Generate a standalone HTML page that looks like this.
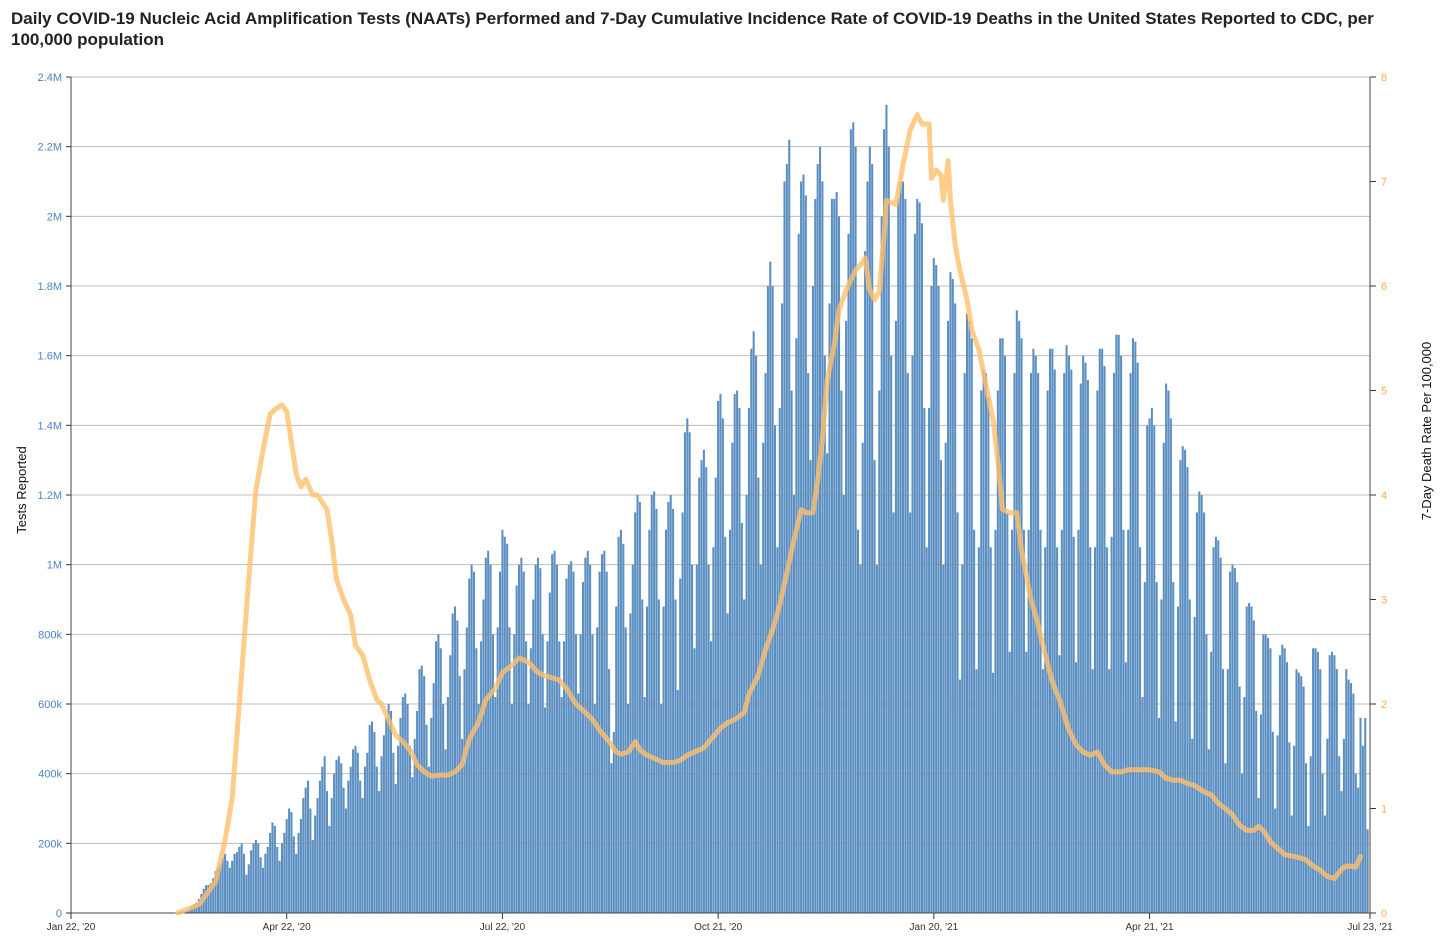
<!DOCTYPE html>
<html><head><meta charset="utf-8"><style>
body{margin:0;background:#fff;width:1454px;height:946px;overflow:hidden;font-family:"Liberation Sans",sans-serif}
#title{position:absolute;left:11px;top:8px;width:1420px;font-size:17px;font-weight:bold;color:#222;line-height:21px}
</style></head><body>
<div id="title">Daily COVID-19 Nucleic Acid Amplification Tests (NAATs) Performed and 7-Day Cumulative Incidence Rate of COVID-19 Deaths in the United States Reported to CDC, per 100,000 population</div>
<svg id="chart" width="1454" height="946" style="position:absolute;left:0;top:0"></svg>
<script>
// daily tests (thousands), starting day 42 (Mar 4 2020), weeks Wed..Tue
const testsStartDay = 42;
const testsK = [
0,0,0,2,3,4,5, 8,12,18,25,30,40,55, 70,80,80,85,100,120,130, 140,160,170,150,130,150,170,
175,190,200,170,110,140,180, 200,210,200,160,130,170,190, 230,260,250,190,150,200,230, 270,300,290,220,170,230,270,
330,360,380,300,210,280,330, 380,420,450,350,250,330,400, 440,450,430,360,300,380,420, 470,480,460,380,330,420,460,
540,550,520,420,350,450,510, 560,600,580,460,370,480,560, 620,630,600,480,390,500,580, 700,710,680,540,420,560,660,
780,800,760,600,470,620,740, 860,880,840,680,500,700,820, 960,1000,980,760,600,780,900, 1020,1040,1000,800,620,820,980,
1100,1080,1060,820,600,800,940, 1000,1020,980,780,600,760,900, 1000,1020,990,800,590,780,920, 1030,1040,1000,780,620,780,960,
1000,1010,980,800,630,800,950, 1020,1040,1000,800,600,820,980, 1030,1040,980,700,430,520,880, 1080,1100,1060,820,600,860,1000,
1150,1200,1180,900,620,880,1100, 1200,1210,1160,900,600,880,1100, 1180,1200,1160,900,640,960,1150, 1380,1420,1380,1000,760,1000,1250,
1300,1330,1280,1000,780,1050,1250, 1470,1490,1420,1080,860,1100,1350, 1490,1500,1450,1120,900,1200,1450, 1620,1670,1600,1250,1000,1350,1550,
1800,1870,1800,1400,1050,1450,1750, 2100,2150,2220,1500,1200,1650,1950, 2100,2120,2060,1550,1300,1800,2050, 2150,2200,2100,1600,1320,1750,2050,
2050,2070,2000,1500,1200,1700,1950, 2250,2270,2200,1100,1000,1350,1900, 2100,2200,2150,1300,1000,1500,2000, 2250,2320,2200,1600,1150,1700,2050,
2100,2100,2050,1550,1150,1600,1950, 2050,2040,1980,1450,1050,1450,1800, 1880,1860,1800,1300,1000,1350,1700, 1840,1820,1750,1150,670,1000,1550,
1720,1700,1650,1100,700,1050,1500, 1560,1550,1480,1050,690,1100,1500, 1650,1650,1600,1150,750,1100,1550, 1730,1700,1650,1100,750,1100,1550,
1620,1600,1550,1100,700,1050,1500, 1620,1620,1560,1050,740,1100,1550, 1630,1600,1560,1080,720,1100,1520, 1600,1580,1530,1050,700,1050,1500,
1620,1620,1570,1050,700,1080,1550, 1660,1660,1600,1100,720,1100,1550, 1650,1640,1580,1050,620,950,1400, 1420,1450,1400,950,560,900,1350,
1520,1500,1420,950,550,880,1300, 1340,1330,1280,900,500,850,1150, 1210,1200,1150,800,470,750,1050, 1080,1070,1020,700,430,700,980,
1000,990,950,650,400,620,880, 890,880,840,580,330,570,800, 800,790,760,520,300,510,740, 770,760,720,490,280,480,700,
690,680,650,430,250,450,760, 760,750,700,400,280,500,740, 750,740,700,450,350,500,700, 670,660,630,400,360,560,480, 560,240
];
const deathDay = [45,54,61,65,68,71,75,78,81,84,86,89,91,93,95,97,99,102,104,108,110,112,115,118,120,123,126,129,131,134,137,140,143,146,149,152,156,159,162,165,168,172,175,179,182,186,189,193,197,200,203,206,209,213,216,220,223,227,230,232,235,238,240,243,246,250,254,257,260,263,267,270,274,277,280,284,286,290,293,296,299,302,305,308,310,313,315,317,319,322,324,327,331,334,335,337,339,341,343,344,348,351,354,357,359,362,363,365,367,368,370,371,373,375,378,380,383,386,389,391,393,396,399,401,405,408,411,414,417,421,424,427,430,433,436,439,443,446,449,452,455,459,462,465,468,471,474,478,481,484,487,490,493,496,499,501,503,506,509,512,516,518,521,524,527,530,533,535,537,539,542,544];
const deathRate = [0,0.08,0.3,0.7,1.1,2.0,3.2,4.05,4.43,4.77,4.82,4.86,4.8,4.5,4.2,4.08,4.15,4.0,4.0,3.86,3.57,3.19,3.0,2.85,2.56,2.47,2.23,2.04,2.0,1.85,1.7,1.64,1.56,1.42,1.35,1.31,1.32,1.32,1.35,1.42,1.66,1.83,2.04,2.15,2.3,2.37,2.44,2.4,2.3,2.27,2.25,2.23,2.15,2.0,1.94,1.85,1.75,1.64,1.54,1.52,1.54,1.64,1.56,1.51,1.48,1.44,1.44,1.46,1.51,1.54,1.58,1.66,1.77,1.82,1.85,1.92,2.09,2.28,2.52,2.71,2.95,3.26,3.57,3.86,3.83,3.83,4.14,4.53,5.1,5.44,5.77,5.96,6.15,6.23,6.27,5.96,5.87,5.95,6.49,6.82,6.78,7.16,7.49,7.64,7.55,7.55,7.03,7.11,7.06,6.82,7.2,6.82,6.39,6.15,5.87,5.58,5.39,5.05,4.72,4.33,3.86,3.83,3.83,3.47,3.0,2.76,2.47,2.21,2.04,1.75,1.61,1.54,1.51,1.54,1.42,1.35,1.35,1.37,1.37,1.37,1.37,1.35,1.29,1.27,1.27,1.24,1.22,1.16,1.13,1.05,1.0,0.94,0.84,0.79,0.79,0.83,0.79,0.68,0.62,0.56,0.54,0.53,0.51,0.45,0.41,0.35,0.33,0.39,0.44,0.45,0.44,0.54];
const leftTicks = [0,200,400,600,800,1000,1200,1400,1600,1800,2000,2200,2400];
const leftTickLabels = ["0","200k","400k","600k","800k","1M","1.2M","1.4M","1.6M","1.8M","2M","2.2M","2.4M"];
const rightTicks = [0,1,2,3,4,5,6,7,8];
const xTickDays = [0,91,182,273,364,455,548];
const xTickLabels = ["Jan 22, '20","Apr 22, '20","Jul 22, '20","Oct 21, '20","Jan 20, '21","Apr 21, '21","Jul 23, '21"];

const NS="http://www.w3.org/2000/svg", svg=document.getElementById('chart');
const X0=71,X1=1370,Y0=913,Y1=77,ND=548;
const x=d=>X0+(X1-X0)*d/ND, yL=v=>Y0-(Y0-Y1)*v/2400, yR=v=>Y0-(Y0-Y1)*v/8;
function mk(t,a,p){const e=document.createElementNS(NS,t);for(const k in a)e.setAttribute(k,a[k]);(p||svg).appendChild(e);return e;}
const bw=(X1-X0)/ND;
const bars=mk('g',{});


testsK.forEach((v,i)=>{const d=testsStartDay+i;const r=mk('rect',{x:(x(d)-bw/2+0.15).toFixed(2),y:yL(v).toFixed(2),width:(bw*0.87).toFixed(2),height:(Y0-yL(v)).toFixed(2),fill:'#5b8fc2'},bars);

});
leftTicks.forEach((v,i)=>{const y=yL(v);
const g=mk('line',{x1:X0,x2:X1,y1:y,y2:y,stroke:'#888','stroke-opacity':0.55,'stroke-width':1});


mk('line',{x1:X0-5,x2:X0,y1:y,y2:y,stroke:'#333'});
const t=mk('text',{x:X0-9,y:y+4,'text-anchor':'end','font-size':11,fill:'#4a86c5'});t.textContent=leftTickLabels[i];

});
rightTicks.forEach(v=>{const y=yR(v);mk('line',{x1:X1,x2:X1+6,y1:y,y2:y,stroke:'#333'});
const t=mk('text',{x:X1+11,y:y+4,'font-size':11,fill:'#f5b050'});t.textContent=String(v);

});
xTickDays.forEach((d,i)=>{const xx=x(d);mk('line',{x1:xx,x2:xx,y1:Y0,y2:Y0+6,stroke:'#333'});
const t=mk('text',{x:xx,y:Y0+17,'text-anchor':'middle','font-size':10,fill:'#333'});t.textContent=xTickLabels[i];

});
mk('line',{x1:X0,x2:X0,y1:Y1,y2:Y0,stroke:'#444'});
mk('line',{x1:X1,x2:X1,y1:Y1,y2:Y0,stroke:'#444'});
mk('line',{x1:X0,x2:X1,y1:Y0,y2:Y0,stroke:'#444'});
const pts=deathDay.map((d,i)=>x(d).toFixed(1)+','+yR(deathRate[i]).toFixed(1)).join(' ');
const pl=mk('polyline',{points:pts,fill:'none',stroke:'#ffbf6b','stroke-opacity':0.8,'stroke-width':5,'stroke-linejoin':'round','stroke-linecap':'round'});


const lt=mk('text',{transform:'translate(26,490) rotate(-90)','text-anchor':'middle','font-size':13,fill:'#111'});lt.textContent='Tests Reported';


const rt=mk('text',{transform:'translate(1431,431) rotate(-90)','text-anchor':'middle','font-size':13,fill:'#111'});rt.textContent='7-Day Death Rate Per 100,000';


</script>
</body></html>
